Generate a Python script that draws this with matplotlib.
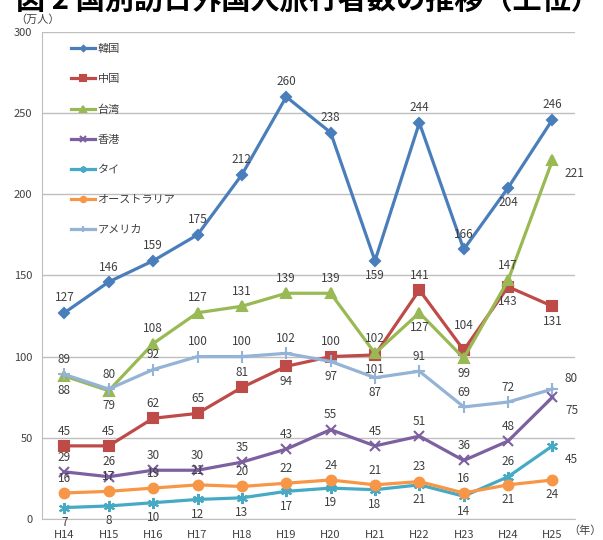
import matplotlib
matplotlib.use("Agg")
import matplotlib.pyplot as plt

plt.rcParams['font.family'] = ['Noto Sans CJK JP', 'DejaVu Sans']

years = ["H14", "H15", "H16", "H17", "H18", "H19", "H20", "H21", "H22", "H23", "H24", "H25"]
korea = [127, 146, 159, 175, 212, 260, 238, 159, 244, 166, 204, 246]
china = [45, 45, 62, 65, 81, 94, 100, 101, 141, 104, 143, 131]
taiwan = [88, 79, 108, 127, 131, 139, 139, 102, 127, 99, 147, 221]
hongkong = [29, 26, 30, 30, 35, 43, 55, 45, 51, 36, 48, 75]
thai = [7, 8, 10, 12, 13, 17, 19, 18, 21, 14, 26, 45]
australia = [16, 17, 19, 21, 20, 22, 24, 21, 23, 16, 21, 24]
usa = [89, 80, 92, 100, 100, 102, 97, 87, 91, 69, 72, 80]
names = ["韓国", "中国", "台湾", "香港", "タイ", "オーストラリア", "アメリカ"]

# label placement: a = above, A = far above, b = below, r = right-below, R = right-above
pos_korea = list("aaaaaaabaaba")
pos_china = list("aaaaababaAbb")
pos_taiwan = list("bbaaaaaabbar")
pos_hk = list("aaaaaaaaaaar")
pos_thai = list("bbbbbbbbbbar")
pos_aus = list("aaaaaaaaaabb")
pos_usa = list("aaaaaabbaaaR")

series = [
    (korea, "#4A7EBB", "D", 5, pos_korea),
    (china, "#BE4B48", "s", 7, pos_china),
    (taiwan, "#98B954", "^", 7, pos_taiwan),
    (hongkong, "#7D60A0", "x", 7, pos_hk),
    (thai, "#46AAC5", (6, 2, 0), 8, pos_thai),
    (australia, "#F79646", "o", 7, pos_aus),
    (usa, "#94B3D6", "+", 8, pos_usa),
]

offsets = {
    "a": ((0, 6), "center", "bottom"),
    "A": ((0, 13), "center", "bottom"),
    "b": ((0, -6), "center", "top"),
    "r": ((9, -5), "left", "top"),
    "R": ((9, 3), "left", "bottom"),
}

fig = plt.figure(figsize=(6.03, 5.4), dpi=100)
ax = fig.add_axes([0.07, 0.039, 0.883, 0.902])

x = list(range(len(years)))
for (vals, col, mk, ms, pos), nm in zip(series, names):
    ax.plot(x, vals, color=col, lw=2.3, marker=mk, markersize=ms,
            markeredgewidth=1.5, markeredgecolor=col, label=nm, zorder=3)
    for xi, v, p in zip(x, vals, pos):
        off, ha, va = offsets[p]
        ax.annotate(str(v), (xi, v), xytext=off, textcoords="offset points",
                    ha=ha, va=va, fontsize=8.5, color="#404040")

ax.set_xlim(-0.5, 11.5)
ax.set_ylim(0, 300)
ax.set_yticks(range(0, 301, 50))
ax.set_xticks(x)
ax.set_xticklabels(years, fontsize=8, color="#404040")
ax.tick_params(axis="y", labelsize=8, labelcolor="#404040", length=0, pad=7)
ax.tick_params(axis="x", length=0, pad=8)
ax.grid(axis="y", color="#BFBFBF", lw=1)
ax.set_axisbelow(True)
for s in ["top", "right"]:
    ax.spines[s].set_visible(False)
ax.spines["left"].set_color("#BFBFBF")
ax.spines["bottom"].set_color("#BFBFBF")

leg = ax.legend(loc="upper left", bbox_to_anchor=(0.035, 0.995), frameon=False,
                fontsize=8, labelspacing=1.8, handlelength=2.2, handletextpad=0.2,
                markerscale=0.55)
for t in leg.get_texts():
    t.set_color("#404040")

fig.text(0.025, 0.963, "（万人）", fontsize=8, color="#404040", ha="left", va="center")
fig.text(0.997, 0.018, "（年）", fontsize=8, color="#404040", ha="right", va="center")
fig.text(0.51, 1.0, "図 2 国別訪日外国人旅行者数の推移（上位）", fontsize=21,
         fontweight="bold", ha="center", va="center")

fig.savefig("out.png", dpi=100)
